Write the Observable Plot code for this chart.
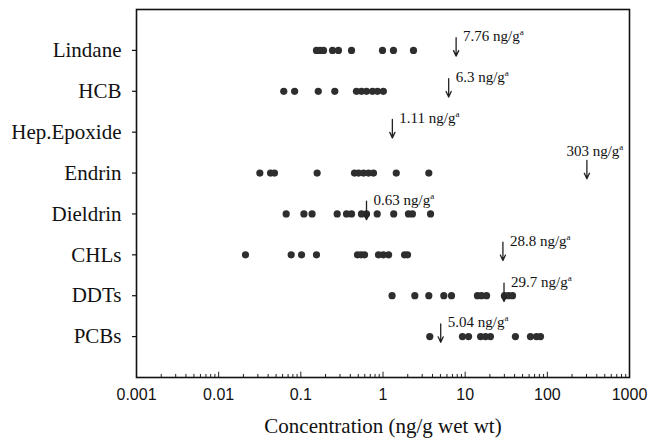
<!DOCTYPE html>
<html><head><meta charset="utf-8">
<script src="https://cdn.jsdelivr.net/npm/d3@7"></script>
<script src="https://cdn.jsdelivr.net/npm/@observablehq/plot@0.6"></script>
<style>body{margin:0;background:#fff}</style>
</head><body><div id="chart"></div>
<script>
const categories = ["Lindane","HCB","Hep.Epoxide","Endrin","Dieldrin","CHLs","DDTs","PCBs"];
const lindane = [0.155, 0.171, 0.189, 0.243, 0.287, 0.414, 0.986, 1.34, 2.35];
const hcb = [0.062, 0.084, 0.163, 0.259, 0.475, 0.547, 0.63, 0.745, 0.857, 1.01];
const hepEpoxide = [];
const endrin = [0.0317, 0.0428, 0.0478, 0.158, 0.45, 0.504, 0.58, 0.667, 0.766, 1.45, 3.61];
const dieldrin = [0.0663, 0.109, 0.137, 0.277, 0.36, 0.414, 0.547, 0.63, 0.85, 1.35, 2.04, 2.28, 3.79];
const chls = [0.0212, 0.0763, 0.102, 0.155, 0.489, 0.54, 0.596, 0.881, 1.01, 1.17, 1.83, 1.99];
const ddts = [1.29, 2.44, 3.61, 5.5, 6.82, 14.1, 15.8, 18.2, 30.1, 33.7, 37.7];
const pcbs = [3.71, 9.27, 11.0, 15.4, 17.7, 20.3, 40.9, 62.3, 73.8, 82.6];
const series = [lindane, hcb, hepEpoxide, endrin, dieldrin, chls, ddts, pcbs];

const guidelineArrowAt = [7.76, 6.3, 1.3, 303, 0.63, 28.8, 29.7, 5.04];
const guidelineLabels = ["7.76 ng/g","6.3 ng/g","1.11 ng/g","303 ng/g","0.63 ng/g","28.8 ng/g","29.7 ng/g","5.04 ng/g"];

const xTicks = [0.001, 0.01, 0.1, 1, 10, 100, 1000];
const xTickLabels = ["0.001","0.01","0.1","1","10","100","1000"];
const xTitle = "Concentration (ng/g wet wt)";

const points = series.flatMap((vals, row) => vals.map(value => ({row, value})));
const guides = guidelineArrowAt.map((x, row) => ({row, x, label: guidelineLabels[row]}));
const minorTicks = xTicks.slice(0, -1).flatMap(d => [2,3,4,5,6,7,8,9].map(k => d * k));
const serif = "'Liberation Serif', 'Times New Roman', serif";
const sans = "'Liberation Sans', Arial, sans-serif";

const plot = Plot.plot({
  width: 649, height: 445,
  marginLeft: 136, marginRight: 20, marginTop: 9, marginBottom: 68,
  x: {type: "log", domain: [0.001, 1000]},
  y: {domain: [8, -1]},
  style: {background: "#fff", color: "#111"},
  marks: [
    Plot.axisX({ticks: xTicks, tickFormat: d => xTickLabels[xTicks.indexOf(d)], tickSize: 0, tickPadding: 11, fontSize: 16, fontFamily: sans, label: null}),
    Plot.axisY({ticks: d3.range(8), tickFormat: i => categories[i], tickSize: 4, tickPadding: 11, fontSize: 21, fontFamily: serif, label: null, strokeWidth: 1.2}),
    Plot.ruleX(minorTicks, {x: d => d, y1: 8, y2: 7.925, stroke: "#222", strokeWidth: 1}),
    Plot.ruleX(xTicks, {x: d => d, y1: 8, y2: 7.87, stroke: "#222", strokeWidth: 1}),
    Plot.frame({stroke: "#111", strokeWidth: 1.6}),
    Plot.dot(points, {x: "value", y: "row", r: 3.6, fill: "#2e2e2e", stroke: "none"}),
    Plot.arrow(guides, {x1: "x", x2: "x", y1: d => d.row - 0.31, y2: d => d.row + 0.14, headLength: 7, headAngle: 50, strokeWidth: 1.3, stroke: "#222"}),
    Plot.text(guides.filter(d => d.row !== 3), {x: "x", y: "row", text: "label", dx: 7, dy: -14, textAnchor: "start", fontSize: 15, fontFamily: serif, fill: "#111"}),
    Plot.text(guides.filter(d => d.row === 3), {x: "x", y: "row", text: "label", dx: 8, dy: -22, textAnchor: "middle", fontSize: 15, fontFamily: serif, fill: "#111"}),
    Plot.text([xTitle], {frameAnchor: "bottom", dy: 55, text: d => d, fontSize: 21, fontFamily: serif, fill: "#111"})
  ]
});
d3.select(plot).selectAll("text").each(function() {
  const t = this.textContent;
  if (/ng\/g$/.test(t)) {
    d3.select(this).append("tspan").attr("dy", -6).attr("font-size", 9).text("a");
  }
});
document.getElementById("chart").appendChild(plot);
</script>
</body></html>
